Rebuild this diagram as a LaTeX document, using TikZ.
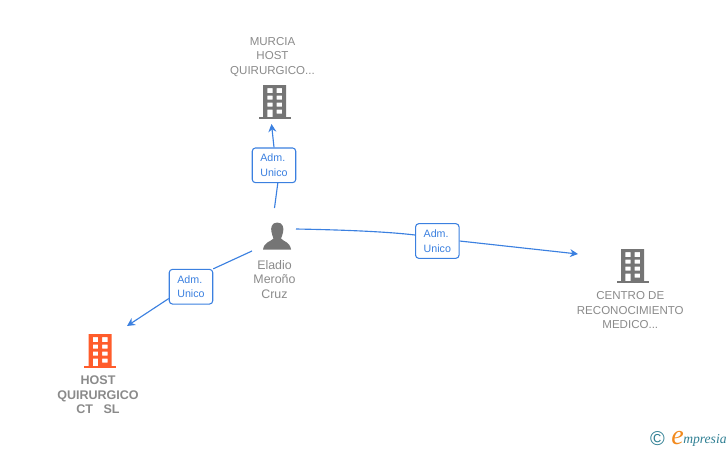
\documentclass[tikz,border=0pt]{standalone}
\usepackage{fontspec}
\setmainfont{Liberation Sans}
\newfontfamily\logofont{Liberation Serif}
\usetikzlibrary{arrows.meta,positioning}
\definecolor{wireblue}{HTML}{3B80E0}
\definecolor{icongrey}{HTML}{757575}
\definecolor{textgrey}{HTML}{8A8A8A}
\definecolor{hostorange}{HTML}{FF5C2B}
\definecolor{logoteal}{HTML}{2F7F93}
\definecolor{logoorange}{HTML}{F28A1E}
\tikzset{
  wire/.style={wireblue,line width=0.85pt},
  wiretip/.style={wire,-{Stealth[length=6pt,width=6pt]}},
  admbox/.style={draw=wireblue,fill=white,rounded corners=2.4pt,line width=0.8pt,
    minimum width=32.6pt,minimum height=26pt,inner sep=0pt,align=left,text=wireblue,
    font=\fontsize{8}{11.2}\selectfont},
  firmname/.style={text=textgrey,align=center,inner sep=0pt,
    font=\fontsize{8.65}{11}\selectfont},
  pics/building/.style={code={
    \fill[#1,even odd rule]
      (-11.5,-2) rectangle (11.5,-34)
      (-7.2,-31) rectangle (-2,-26)
      (2.2,-31) rectangle (7.5,-26)
      (-7.2,-23.5) rectangle (-2,-19.5)
      (2.2,-23.5) rectangle (7.5,-19.5)
      (-7.2,-16.5) rectangle (-2,-12.5)
      (2.2,-16.5) rectangle (7.5,-12.5)
      (-7.2,-9.5) rectangle (-2,-2)
      (2.2,-9.5) rectangle (7.5,-5.5);
    \fill[#1] (-16,0) rectangle (16,-2);
  }}
}
\begin{document}
\begin{tikzpicture}[x=0.75pt,y=-0.75pt]
  \useasboundingbox (0,0) rectangle (728,450);

  % the three firms
  \pic at (274.5,119) {building=icongrey};
  \pic at (100,368) {building=hostorange};
  \pic at (632.5,283) {building=icongrey};

  % the person
  \fill[icongrey] (277.3,222.5) .. controls (271.5,222.5) and (270.5,228) .. (271.5,232)
    .. controls (272,235) and (273,237) .. (273.5,238.5)
    .. controls (271,241.5) and (264,242) .. (263,249.5) -- (291,249.5)
    .. controls (290,242) and (283.5,241.5) .. (281,238.5)
    .. controls (281.5,237) and (282.6,235) .. (283.1,232)
    .. controls (284,228) and (283,222.5) .. (277.3,222.5) -- cycle;

  \node[firmname] (murcia) at (272.5,57) {MURCIA\\HOST\\QUIRURGICO...};
  \node[firmname,font=\fontsize{9.4}{11}\selectfont\bfseries] (host) at (98,394.7) {HOST\\QUIRURGICO\\CT\ \ \ SL};
  \node[firmname] (centro) at (630.3,310.3) {CENTRO DE\\RECONOCIMIENTO\\MEDICO...};
  \node[firmname,font=\fontsize{9.3}{11}\selectfont] (eladio) at (274.5,279.5) {Eladio\\Meroño\\Cruz};

  \node[admbox] (adm1) at (274,165.3) {Adm.\\Unico};
  \node[admbox] (adm2) at (437.3,241) {Adm.\\Unico};
  \node[admbox] (adm3) at (191,286.7) {Adm.\\Unico};

  \coordinate (from1) at (274.5,208);
  \coordinate (tip1) at (271.5,124);
  \coordinate (from2) at (296,229);
  \coordinate (tip2) at (578,254);
  \coordinate (from3) at (252,251);
  \coordinate (tip3) at (127,326);

  \draw[wire] (from1) -- (adm1.-78);
  \draw[wiretip] (adm1.north) -- (tip1);
  \draw[wire] (from2) .. controls (350,230) and (390,232) .. (adm2.west |- 0,235);
  \draw[wiretip] (adm2.east) -- (tip2);
  \draw[wire] (from3) -- (adm3.north east);
  \draw[wiretip] (adm3.-152) -- (tip3);

  % logo
  \node[text=logoteal,inner sep=0pt,font=\fontsize{15}{15}\selectfont] (copyr) at (657.5,438.5) {©};
  \node[text=logoteal,inner sep=0pt,anchor=base west,font=\logofont\itshape\fontsize{10.2}{12}\selectfont] (brand) at (683,443.5) {mpresia};
  \node[text=logoorange,inner sep=0pt,anchor=base east,font=\logofont\itshape\fontsize{21}{21}\selectfont] (brande) at (684,444) {e};
\end{tikzpicture}
\end{document}
